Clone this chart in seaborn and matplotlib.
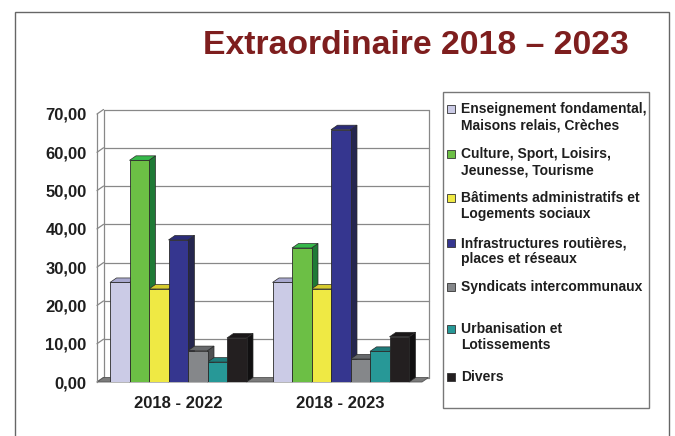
import numpy as np
import pandas as pd
import matplotlib
matplotlib.use("Agg")
import matplotlib.pyplot as plt
from matplotlib.patches import Polygon, Rectangle
import seaborn as sns

# donnees
periodes = ["2018 - 2022", "2018 - 2023"]
categories = [
    "Enseignement fondamental,\nMaisons relais, Crèches",
    "Culture, Sport, Loisirs,\nJeunesse, Tourisme",
    "Bâtiments administratifs et\nLogements sociaux",
    "Infrastructures routières,\nplaces et réseaux",
    "Syndicats intercommunaux",
    "Urbanisation et\nLotissements",
    "Divers",
]
valeurs_2022 = [26.0, 57.9, 24.3, 37.1, 8.2, 5.2, 11.5]
valeurs_2023 = [26.0, 35.0, 24.3, 65.9, 6.0, 8.0, 11.8]
yticks = [0, 10, 20, 30, 40, 50, 60, 70]

couleurs = ["#CBCBE6", "#6CBF45", "#EFE944", "#35368F", "#85878A", "#279897", "#231F20"]
couleurs_cote = ["#8E8EB4", "#1F7A36", "#B9AE2A", "#25264F", "#4E5052", "#17605F", "#111011"]
couleurs_dessus = ["#A9A9CF", "#35B84A", "#D6CB2E", "#2B2C78", "#66686B", "#1F7B7A", "#1A1718"]

df = pd.DataFrame({
    "periode": np.repeat(periodes, len(categories)),
    "categorie": categories * len(periodes),
    "valeur": valeurs_2022 + valeurs_2023,
})

sns.set_style("white")
plt.rcParams["font.family"] = ["Liberation Sans", "DejaVu Sans"]
plt.rcParams["font.weight"] = "bold"

fig = plt.figure(figsize=(6.75, 4.36), dpi=100)
ax = fig.add_axes([97 / 675, 54 / 436, 325 / 675, 268 / 436])

sns.barplot(data=df, x="periode", y="valeur", hue="categorie", hue_order=categories,
            order=periodes, palette=couleurs, width=0.84, dodge=True, legend=False,
            edgecolor="#2a2a2a", linewidth=0.6, saturation=1, errorbar=None, ax=ax, zorder=3)

ax.set_xlim(-0.5, 1.5)
ax.set_ylim(0, 70)

# profondeur 3D (en pixels -> unites de donnees)
px_x = ax.bbox.width / 2.0
px_y = ax.bbox.height / 70.0
dx = 6.5 / px_x
dy = 4.5 / px_y

# sol
sol = Polygon([(-0.5, 0), (1.5, 0), (1.5 + dx, dy), (-0.5 + dx, dy)], closed=True,
              facecolor="#7b7b7b", edgecolor="#555555", lw=0.6, zorder=1.5, clip_on=False)
ax.add_patch(sol)

# grille du fond et paroi gauche
gris = "#888888"
for y in yticks:
    ax.plot([-0.5 + dx, 1.5 + dx], [y + dy, y + dy], color=gris, lw=0.9, zorder=1, clip_on=False)
    ax.plot([-0.5, -0.5 + dx], [y, y + dy], color=gris, lw=0.9, zorder=1, clip_on=False)
ax.plot([-0.5 + dx, -0.5 + dx], [dy, 70 + dy], color=gris, lw=0.9, zorder=1, clip_on=False)
ax.plot([1.5 + dx, 1.5 + dx], [dy, 70 + dy], color=gris, lw=0.9, zorder=1, clip_on=False)

# faces laterales et dessus des barres
for i, cont in enumerate(ax.containers):
    for p in cont.patches:
        x0 = p.get_x()
        x1 = x0 + p.get_width()
        h = p.get_height()
        cote = Polygon([(x1, 0), (x1 + dx, dy), (x1 + dx, h + dy), (x1, h)], closed=True,
                       facecolor=couleurs_cote[i], edgecolor="#2a2a2a", lw=0.5, zorder=2, clip_on=False)
        dessus = Polygon([(x0, h), (x1, h), (x1 + dx, h + dy), (x0 + dx, h + dy)], closed=True,
                         facecolor=couleurs_dessus[i], edgecolor="#2a2a2a", lw=0.5, zorder=2, clip_on=False)
        ax.add_patch(cote)
        ax.add_patch(dessus)

for s in ["top", "right", "bottom"]:
    ax.spines[s].set_visible(False)
ax.spines["left"].set_color(gris)
ax.spines["left"].set_linewidth(0.9)

ax.set_yticks(yticks)
ax.set_yticklabels([f"{v:.2f}".replace(".", ",") for v in yticks])
ax.tick_params(axis="y", direction="out", length=3.5, width=0.9, color=gris, pad=4,
               labelsize=12, labelcolor="#1e1e1e")
ax.set_xticks([0, 1])
ax.set_xticklabels(periodes)
ax.set_xticks([-0.5, 0.5, 1.5], minor=True)
ax.tick_params(axis="x", which="major", length=0, pad=10, labelsize=12, labelcolor="#1e1e1e")
ax.tick_params(axis="x", which="minor", direction="out", length=4, width=0.9, color=gris)
ax.set_xlabel("")
ax.set_ylabel("")
ax.grid(False)

# titre
fig.text(416 / 675, 1 - 45 / 436, "Extraordinaire 2018 – 2023", ha="center", va="center",
         fontsize=24.3, fontweight="bold", color="#7E1E1E")

# legende
W, H = 675, 436
fig.add_artist(Rectangle((443 / W, 1 - 408 / H), 206 / W, 316 / H, transform=fig.transFigure,
                         facecolor="white", edgecolor="#777777", lw=1))
legende_y = [109, 154, 198, 243, 287, 329, 377]
for cat, c, y in zip(categories, couleurs, legende_y):
    fig.add_artist(Rectangle((447 / W, 1 - (y + 4) / H), 8 / W, 8 / H, transform=fig.transFigure,
                             facecolor=c, edgecolor="#333333", lw=0.6))
    fig.text(461 / W, 1 - (y - 7) / H, cat, ha="left", va="top", fontsize=10,
             fontweight="bold", color="#1e1e1e", linespacing=1.2)

# cadre exterieur
fig.add_artist(Rectangle((15 / W, -0.1), 654 / W, 1.1 - 12 / H, transform=fig.transFigure,
                         facecolor="none", edgecolor="#666666", lw=1))

plt.savefig("out.png", dpi=100)
